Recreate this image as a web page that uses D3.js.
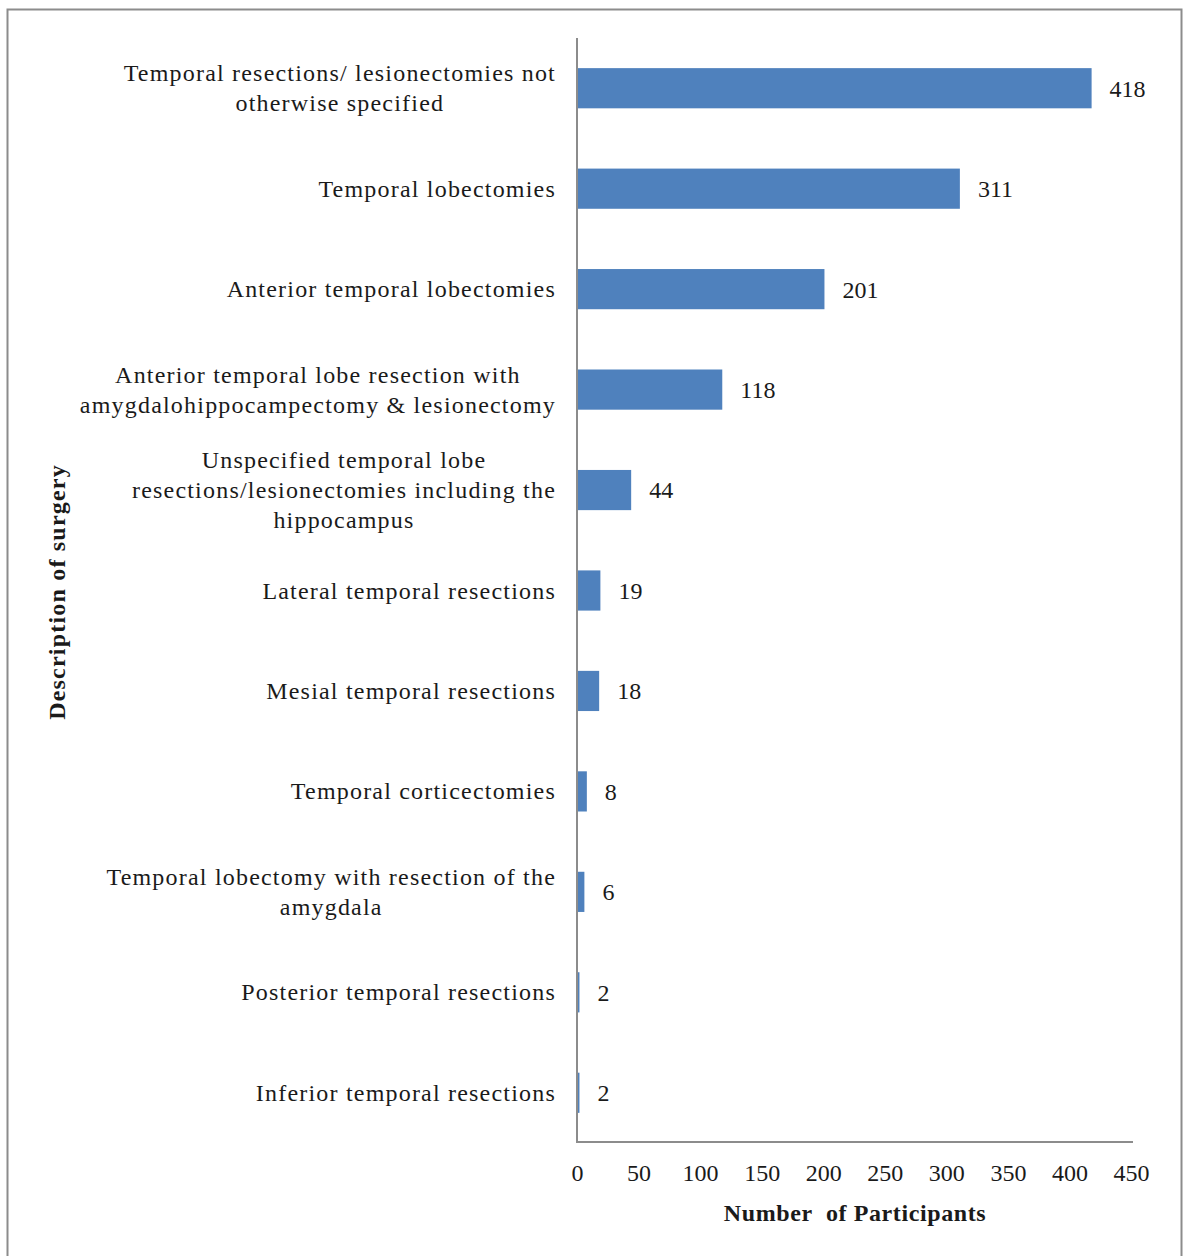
<!DOCTYPE html>
<html>
<head>
<meta charset="utf-8">
<script src="https://cdn.jsdelivr.net/npm/d3@7"></script>
<style>
  html, body { margin: 0; padding: 0; background: #fff; }
  svg { display: block; }
  text { font-family: "Liberation Serif", "Times New Roman", serif; fill: #1a1a1a; }
</style>
</head>
<body>
<div id="chart"></div>
<script>
const categories = [
  ["Temporal resections/ lesionectomies not", "otherwise specified"],
  ["Temporal lobectomies"],
  ["Anterior temporal lobectomies"],
  ["Anterior temporal lobe resection with", "amygdalohippocampectomy & lesionectomy"],
  ["Unspecified temporal lobe", "resections/lesionectomies including the", "hippocampus"],
  ["Lateral temporal resections"],
  ["Mesial temporal resections"],
  ["Temporal corticectomies"],
  ["Temporal lobectomy with resection of the", "amygdala"],
  ["Posterior temporal resections"],
  ["Inferior temporal resections"]
];
const values = [418, 311, 201, 118, 44, 19, 18, 8, 6, 2, 2];
const xTicks = [0, 50, 100, 150, 200, 250, 300, 350, 400, 450];
const xTitle = "Number\u00A0\u00A0of Participants";
const yTitle = "Description of surgery";

const W = 1183, H = 1256;
const svg = d3.select("#chart").append("svg").attr("width", W).attr("height", H);

// outer frame
svg.append("rect").attr("x", 7.5).attr("y", 9.5).attr("width", 1174).attr("height", 1260)
  .attr("fill", "none").attr("stroke", "#8c8c8c").attr("stroke-width", 2);

const x = d3.scaleLinear().domain([0, 450]).range([577, 1131]);
const ids = categories.map((d, i) => i);
const y = d3.scaleBand().domain(ids).range([38, 1143]).paddingInner(0.6).paddingOuter(0.3);

// bars
svg.selectAll("rect.bar").data(values).join("rect")
  .attr("class", "bar")
  .attr("x", x(0))
  .attr("y", (d, i) => y(i))
  .attr("width", d => x(d) - x(0))
  .attr("height", y.bandwidth())
  .attr("fill", "#4F81BD");

// value labels
svg.selectAll("text.val").data(values).join("text")
  .attr("class", "val")
  .attr("x", d => x(d) + 18)
  .attr("y", (d, i) => y(i) + y.bandwidth() / 2)
  .attr("dy", "0.35em")
  .attr("font-size", 24)
  .text(d => d);

// axes lines
const xAxis = d3.axisBottom(x).tickValues(xTicks).tickSize(0).tickPadding(22).tickFormat(d3.format("d"));
const gx = svg.append("g").attr("transform", "translate(0,1142)").call(xAxis);
gx.select(".domain").attr("stroke", "#8c8c8c").attr("stroke-width", 2).attr("d", "M577,0H1133");
gx.selectAll("text").attr("font-size", 24).attr("font-family", "Liberation Serif").attr("fill", "#1a1a1a");

svg.append("line").attr("x1", 577).attr("x2", 577).attr("y1", 38).attr("y2", 1143)
  .attr("stroke", "#8c8c8c").attr("stroke-width", 2);

// category labels
const lineH = 30;
const gl = svg.append("g");
categories.forEach((lines, i) => {
  const cy = y(i) + y.bandwidth() / 2;
  const t = gl.append("text").attr("font-size", 24).attr("text-anchor", "middle")
    .attr("letter-spacing", "1.2px");
  const tspans = lines.map((ln, j) => t.append("tspan")
    .attr("dy", j === 0 ? ((-(lines.length - 1) / 2) * lineH) + 8 : lineH)
    .text(ln));
  let maxW = 0;
  tspans.forEach(s => { maxW = Math.max(maxW, s.node().getComputedTextLength()); });
  const cx = 556 - maxW / 2;
  tspans.forEach(s => s.attr("x", cx));
  t.attr("y", cy);
});

// axis titles
svg.append("text").attr("x", 855).attr("y", 1221).attr("text-anchor", "middle")
  .attr("font-size", 24).attr("font-weight", "bold").attr("letter-spacing", "0.6px").text(xTitle);
svg.append("text").attr("transform", "translate(65,592) rotate(-90)").attr("text-anchor", "middle")
  .attr("font-size", 24).attr("font-weight", "bold").attr("letter-spacing", "1.2px").text(yTitle);
</script>
</body>
</html>
